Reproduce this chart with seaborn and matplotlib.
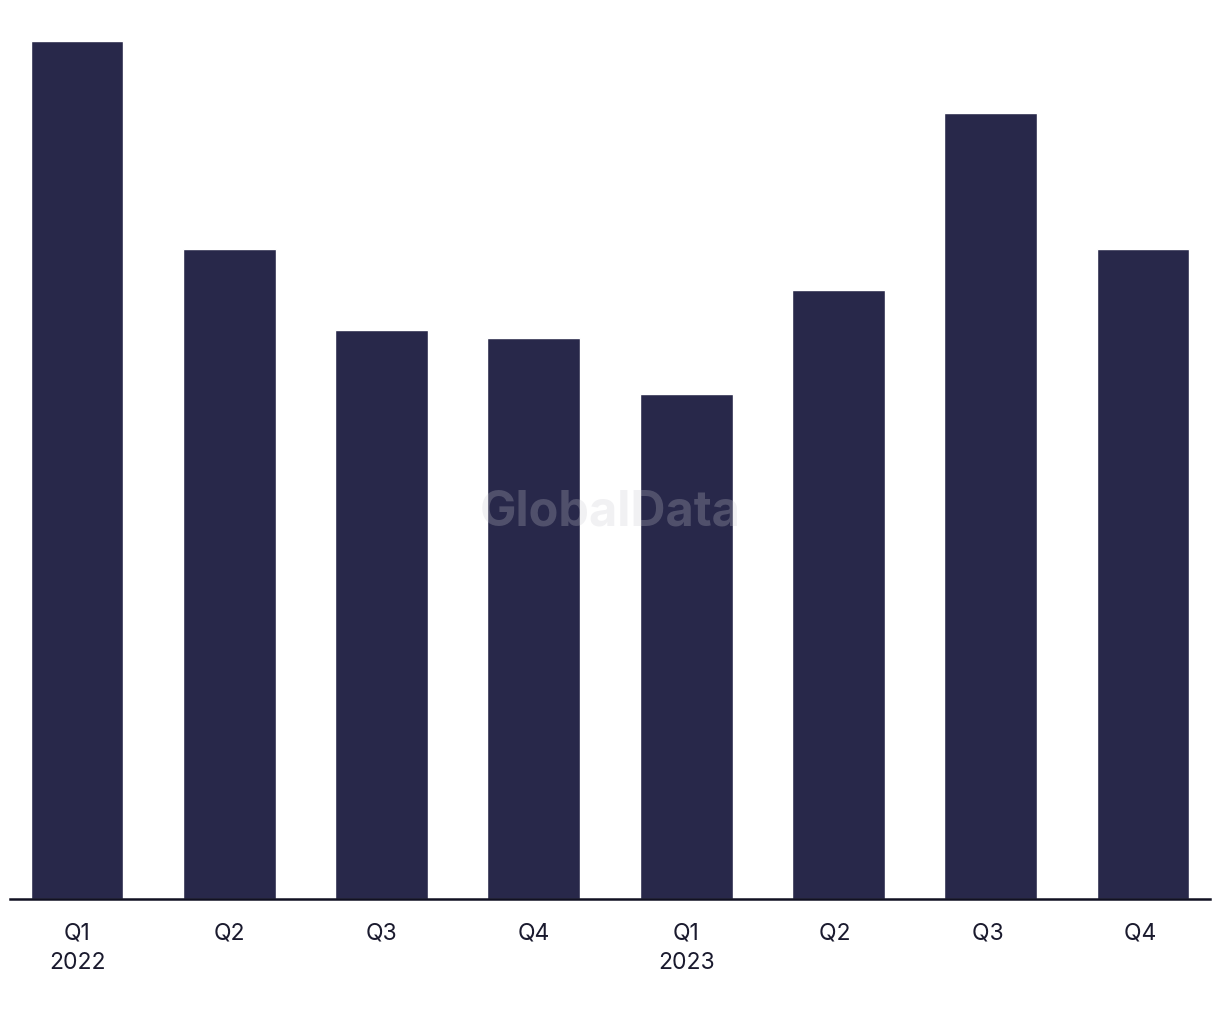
import matplotlib
matplotlib.use("Agg")
import matplotlib.pyplot as plt
import pandas as pd
import seaborn as sns

quarters = ["Q1\n2022", "Q2", "Q3", "Q4", "Q1\n2023", "Q2 ", "Q3 ", "Q4 "]
values = [858, 650, 569, 561, 505, 609, 786, 650]

BAR_COLOR = "#28284a"


def plot_quarters(df):
    """Столбчатая диаграмма по кварталам"""
    sns.set_style("white")
    plt.rcParams["font.family"] = ["Inter", "DejaVu Sans"]

    fig = plt.figure(figsize=(12.2, 10.2), dpi=100)
    ax = fig.add_axes([10 / 1220, 1 - 900 / 1020, 1200 / 1220, 858 / 1020])

    sns.barplot(x="quarter", y="value", data=df, color=BAR_COLOR,
                width=0.61, saturation=1, ax=ax)

    ax.set_xlim(-0.44, 7.44)
    ax.set_ylim(0, 858)
    ax.set_xlabel("")
    ax.set_ylabel("")
    ax.set_yticks([])
    ax.tick_params(axis="x", length=0, pad=16, labelsize=16.5, colors="#1a1a2e")
    for lbl in ax.get_xticklabels():
        lbl.set_linespacing(1.45)

    for side in ["top", "left", "right"]:
        ax.spines[side].set_visible(False)
    ax.spines["bottom"].set_color("#111122")
    ax.spines["bottom"].set_linewidth(1.8)

    # водяной знак
    fig.text(0.5, 1 - 512 / 1020, "GlobalData", ha="center", va="center",
             fontsize=35, fontweight="bold", color="#c8c8d0", alpha=0.25)

    fig.savefig("out.png", dpi=100)
    plt.close(fig)


if __name__ == "__main__":
    plot_quarters(pd.DataFrame({"quarter": quarters, "value": values}))
